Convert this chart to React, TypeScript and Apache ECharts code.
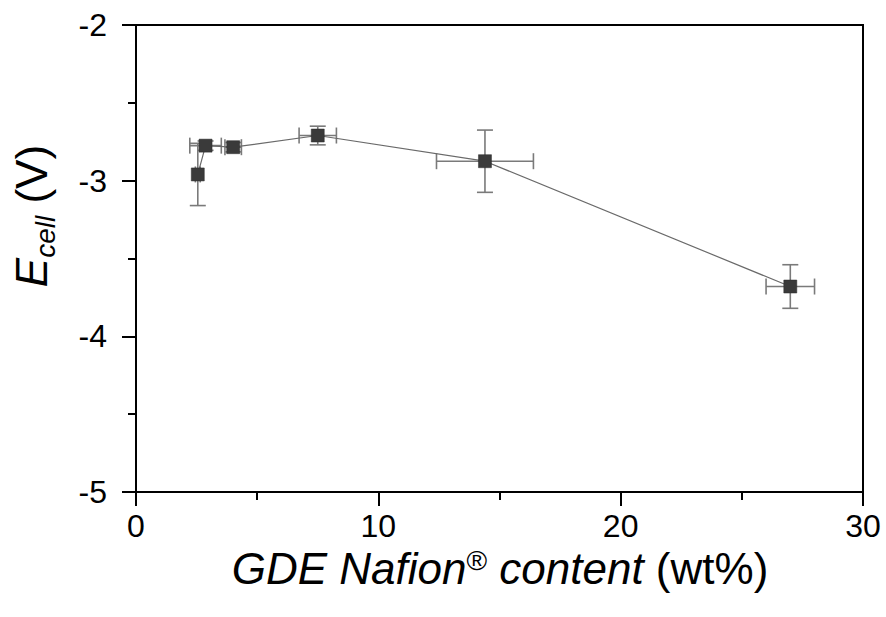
import React, { useEffect, useRef } from "react";
import * as echarts from "echarts";

// GDE Nafion content (wt%)
const nafionContent = [2.55, 2.87, 4.01, 7.5, 14.4, 27.0];
// E_cell (V)
const cellVoltage = [-2.96, -2.775, -2.785, -2.71, -2.875, -3.68];
// error bars
const nafionError = [0.1, 0.65, 0.34, 0.77, 2.0, 1.0];
const voltageError = [0.2, 0.03, 0.03, 0.06, 0.2, 0.14];

const xTicks = { min: 0, max: 30, interval: 10 };
const yTicks = { min: -5, max: -2, interval: 1 };

const FONT = "'Liberation Sans', Arial, Helvetica, sans-serif";

export default function App() {
  const ref = useRef<HTMLDivElement>(null);
  useEffect(() => {
    if (!ref.current) return;
    document.body.style.margin = "0";
    const chart = echarts.init(ref.current, undefined, { renderer: "svg" });
    const points = nafionContent.map((x, i) => [x, cellVoltage[i]]);
    const errData = nafionContent.map((x, i) => [x, cellVoltage[i], nafionError[i], voltageError[i]]);
    const axisColor = "#000";
    const errStroke = { stroke: "#7a7a7a", lineWidth: 1.6 };
    const cap = 8;
    chart.setOption({
      animation: false,
      backgroundColor: "#fff",
      grid: {
        left: 136,
        top: 25,
        right: 23,
        bottom: 125,
        show: true,
        borderColor: axisColor,
        borderWidth: 2,
        backgroundColor: "transparent",
      },
      xAxis: {
        type: "value",
        min: xTicks.min,
        max: xTicks.max,
        interval: xTicks.interval,
        axisLine: { show: true, onZero: false, lineStyle: { color: axisColor, width: 2 } },
        axisTick: { show: true, length: 14, lineStyle: { color: axisColor, width: 2 } },
        minorTick: { show: true, splitNumber: 2, length: 8, lineStyle: { color: axisColor, width: 2 } },
        splitLine: { show: false },
        minorSplitLine: { show: false },
        axisLabel: { fontSize: 32, color: "#000", fontFamily: FONT, margin: 18 },
      },
      yAxis: {
        type: "value",
        min: yTicks.min,
        max: yTicks.max,
        interval: yTicks.interval,
        axisLine: { show: true, onZero: false, lineStyle: { color: axisColor, width: 2 } },
        axisTick: { show: true, length: 14, lineStyle: { color: axisColor, width: 2 } },
        minorTick: { show: true, splitNumber: 2, length: 8, lineStyle: { color: axisColor, width: 2 } },
        splitLine: { show: false },
        minorSplitLine: { show: false },
        axisLabel: { fontSize: 32, color: "#000", fontFamily: FONT, margin: 29 },
      },
      graphic: [
        {
          type: "text",
          x: 500,
          y: 571,
          style: {
            text: "{i|GDE Nafion}{sup|®}{i| content}{n| (wt%)}",
            align: "center",
            verticalAlign: "middle",
            rich: {
              i: { fontSize: 44, fontStyle: "italic", fontFamily: FONT, lineHeight: 50, verticalAlign: "top", fill: "#000" },
              n: { fontSize: 44, fontFamily: FONT, lineHeight: 50, verticalAlign: "top", fill: "#000" },
              sup: { fontSize: 28, fontFamily: FONT, lineHeight: 26, verticalAlign: "top", fill: "#000" },
            },
          },
        },
        {
          type: "text",
          x: 34,
          y: 216,
          rotation: Math.PI / 2,
          style: {
            text: "{i|E}{sub|cell}{n| (V)}",
            align: "center",
            verticalAlign: "middle",
            rich: {
              i: { fontSize: 44, fontStyle: "italic", fontFamily: FONT, lineHeight: 50, verticalAlign: "top", fill: "#000" },
              n: { fontSize: 44, fontFamily: FONT, lineHeight: 50, verticalAlign: "top", fill: "#000" },
              sub: { fontSize: 28, fontStyle: "italic", fontFamily: FONT, lineHeight: 28, padding: [22, 0, 0, 0], verticalAlign: "top", fill: "#000" },
            },
          },
        },
      ],
      series: [
        {
          type: "custom",
          data: errData,
          encode: { x: 0, y: 1 },
          z: 2,
          renderItem: (_params: any, api: any) => {
            const x = api.value(0);
            const y = api.value(1);
            const ex = api.value(2);
            const ey = api.value(3);
            const l = api.coord([x - ex, y]);
            const r = api.coord([x + ex, y]);
            const t = api.coord([x, y + ey]);
            const b = api.coord([x, y - ey]);
            const mk = (x1: number, y1: number, x2: number, y2: number) => ({
              type: "line",
              shape: { x1, y1, x2, y2 },
              style: errStroke,
            });
            return {
              type: "group",
              children: [
                mk(l[0], l[1], r[0], r[1]),
                mk(l[0], l[1] - cap, l[0], l[1] + cap),
                mk(r[0], r[1] - cap, r[0], r[1] + cap),
                mk(t[0], t[1], b[0], b[1]),
                mk(t[0] - cap, t[1], t[0] + cap, t[1]),
                mk(b[0] - cap, b[1], b[0] + cap, b[1]),
              ],
            };
          },
        },
        {
          type: "line",
          data: points,
          z: 3,
          symbol: "rect",
          symbolSize: 13,
          showSymbol: true,
          lineStyle: { color: "#6a6a6a", width: 1.2 },
          itemStyle: { color: "#3a3a3a", borderColor: "#2a2a2a", borderWidth: 0.5 },
        },
      ],
    });
    return () => chart.dispose();
  }, []);
  return <div ref={ref} style={{ width: 886, height: 617 }} />;
}
